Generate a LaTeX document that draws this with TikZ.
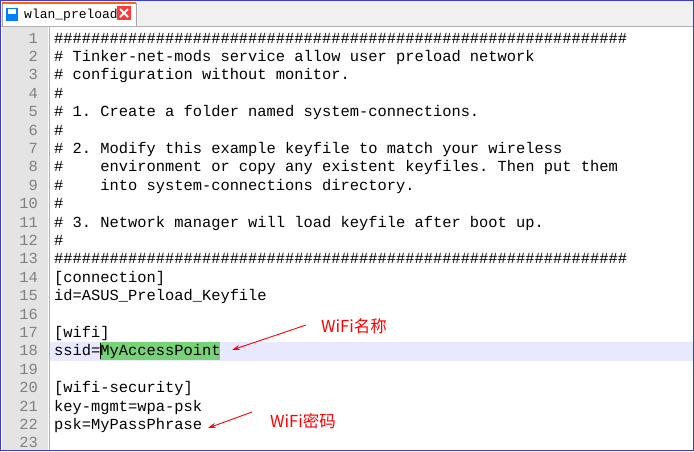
\documentclass[tikz,border=0pt]{standalone}
\usepackage{fontspec}
\setmonofont{Liberation Mono}
\newfontfamily\cjk{Noto Sans CJK SC}
\usetikzlibrary{arrows.meta}
\definecolor{gut}{RGB}{228,228,228}
\definecolor{num}{RGB}{128,128,128}
\definecolor{hl}{RGB}{232,232,255}
\definecolor{sel}{RGB}{120,210,120}
\definecolor{frm}{RGB}{60,60,200}
\begin{document}
\begin{tikzpicture}[x=1pt,y=-1pt,
  code/.style={anchor=base west,inner sep=0pt,font=\ttfamily\fontsize{15.4}{15.4}\selectfont},
  ln/.style={anchor=base east,inner sep=0pt,text=num,font=\ttfamily\fontsize{15.4}{15.4}\selectfont},
  note/.style={anchor=west,inner sep=0pt,text=red,font=\cjk\fontsize{16.5}{16.5}\selectfont},
  arr/.style={red,line width=0.9pt,-{Stealth[length=8pt,width=5pt]}}]
\useasboundingbox (0,0) rectangle (694,451);
\fill[white] (0,0) rectangle (694,451);
\fill[gray!12] (0,0) rectangle (694,26);
\draw[gray!60] (0,26) -- (694,26);
\fill[white,draw=gray!70] (2,26) -- (2,3) -- (136,3) -- (136,26);
\fill[red!20!orange] (2,2) rectangle (136,4);
\fill[blue!50!cyan] (6,8) rectangle (18,21);
\fill[white] (8,9) rectangle (16,14);
\node[inner sep=0pt,anchor=west,font=\ttfamily\fontsize{13}{13}\selectfont] (tab) at (24,15) {wlan\_preload};
\fill[red!70!pink] (117,6) rectangle (131,20);
\draw[white,line width=1.8pt] (120,9) -- (128,17) (120,17) -- (128,9);
\fill[gut] (2,27) rectangle (48,451);
\draw[gray!60] (49,27) -- (49,451);
\fill[hl] (50,342) rectangle (694,361);
\fill[sel] (100,342) rectangle (220,360);
\draw[black,line width=0.8pt] (100,343) -- (100,359);
\foreach \i in {1,...,23} {\node[ln] (n\i) at (38,{43+(\i-1)*18.4}) {\i};}
\foreach \i/\t in {
1/{\#\#\#\#\#\#\#\#\#\#\#\#\#\#\#\#\#\#\#\#\#\#\#\#\#\#\#\#\#\#\#\#\#\#\#\#\#\#\#\#\#\#\#\#\#\#\#\#\#\#\#\#\#\#\#\#\#\#\#\#\#\#},
2/{\# Tinker-net-mods service allow user preload network},
3/{\# configuration without monitor.},
4/{\#},
5/{\# 1. Create a folder named system-connections.},
6/{\#},
7/{\# 2. Modify this example keyfile to match your wireless},
8/{\#\ \ \ \ environment or copy any existent keyfiles. Then put them},
9/{\#\ \ \ \ into system-connections directory.},
10/{\#},
11/{\# 3. Network manager will load keyfile after boot up.},
12/{\#},
13/{\#\#\#\#\#\#\#\#\#\#\#\#\#\#\#\#\#\#\#\#\#\#\#\#\#\#\#\#\#\#\#\#\#\#\#\#\#\#\#\#\#\#\#\#\#\#\#\#\#\#\#\#\#\#\#\#\#\#\#\#\#\#},
14/{[connection]},
15/{id=ASUS\_Preload\_Keyfile},
17/{[wifi]},
18/{ssid=MyAccessPoint},
20/{[wifi-security]},
21/{key-mgmt=wpa-psk},
22/{psk=MyPassPhrase}}
{\node[code] (c\i) at (54,{43+(\i-1)*18.4}) {\t};}
\node[note] (w1) at (321,326) {WiFi名称};
\node[note] (w2) at (270,421) {WiFi密码};
\coordinate (a1s) at (306,325);
\coordinate (a1e) at (232,350);
\coordinate (a2s) at (252,412);
\coordinate (a2e) at (208,428);
\draw[arr] (a1s) -- (a1e);
\draw[arr] (a2s) -- (a2e);
\draw[frm,line width=1.2pt] (0.6,0.6) rectangle (693.4,450.4);
\end{tikzpicture}
\end{document}
